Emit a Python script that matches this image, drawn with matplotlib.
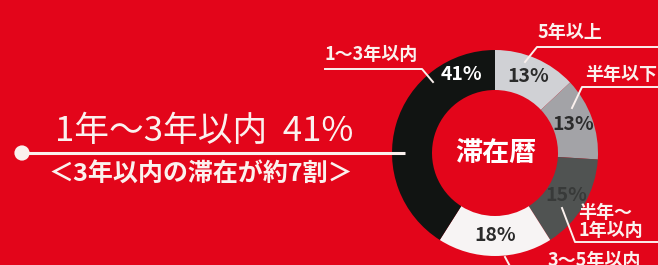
import matplotlib
matplotlib.use("Agg")
import matplotlib.pyplot as plt
import numpy as np

plt.rcParams['font.family'] = ['Noto Sans CJK JP', 'DejaVu Sans']

# ---- data ----
categories = ['5年以上', '半年以下', '半年〜1年以内', '3〜5年以内', '1〜3年以内']
values = [13, 13, 15, 18, 41]
pct_labels = ['13%', '13%', '15%', '18%', '41%']
center_title = '滞在暦'
headline = '1年〜3年以内  41%'
subline = '＜3年以内の滞在が約7割＞'

# ---- style ----
RED = '#e3051a'
WHITE = '#fbf1ee'
seg_colors = ['#d0d1d5', '#a3a3a7', '#505352', '#f7f4f4', '#111412']
pct_colors = ['#2b2b2b', '#2b2b2b', '#383a39', '#2b2b2b', '#ffffff']

W, H = 658, 265
fig = plt.figure(figsize=(W / 100, H / 100), dpi=100)
fig.patch.set_facecolor(RED)
ax = fig.add_axes([0, 0, 1, 1])
ax.set_facecolor(RED)

def Y(y):
    return H - y

cx, cy = 495, Y(153)
R_out, R_in = 103, 63

wedges, _, autotexts = ax.pie(
    values, colors=seg_colors, startangle=90, counterclock=False,
    center=(cx, cy), radius=R_out,
    wedgeprops=dict(width=R_out - R_in, linewidth=0),
    autopct='%d%%', pctdistance=(R_out + R_in) / 2 / R_out,
    textprops=dict(fontsize=14, fontweight='bold'))
for t, lab, c in zip(autotexts, pct_labels, pct_colors):
    t.set_text(lab)
    t.set_color(c)
# 41% label sits near the top of its wedge
ang = np.deg2rad(90 + 23)
autotexts[-1].set_position((cx + 85 * np.cos(ang), cy + 85 * np.sin(ang)))

ax.set_xlim(0, W)
ax.set_ylim(0, H)
ax.set_aspect('equal')
ax.axis('off')

# center title
ax.text(cx + 1, cy, center_title, color='white', fontsize=19.5, fontweight='bold',
        ha='center', va='center', zorder=5)

# headline with dot and line
ax.plot([22, 405], [Y(153), Y(153)], color=WHITE, lw=2.2, zorder=6,
        solid_capstyle='butt')
ax.scatter([22], [Y(153)], s=120, color=WHITE, zorder=7, edgecolors='none')
ax.text(55, Y(132), headline, color=WHITE, fontsize=25, ha='left',
        va='center', zorder=6)
ax.text(48, Y(175), subline, color=WHITE, fontsize=18, fontweight='bold',
        ha='left', va='center', zorder=6)

lw = 1.4
lc = WHITE
# 1〜3年以内 label
ax.text(325, Y(55), categories[4], color=WHITE, fontsize=13,
        fontweight='bold', ha='left', va='center')
ax.plot([325, 422, 433], [Y(69), Y(69), Y(82)], color=lc, lw=lw)
# 5年以上
ax.text(537, Y(33), categories[0], color=WHITE, fontsize=13,
        fontweight='bold', ha='left', va='center')
ax.plot([525, 537, 660], [Y(62), Y(47), Y(47)], color=lc, lw=lw)
# 半年以下
ax.text(585, Y(74), categories[1], color=WHITE, fontsize=13,
        fontweight='bold', ha='left', va='center')
ax.plot([572, 582, 660], [Y(108), Y(87), Y(87)], color=lc, lw=lw)
# 半年〜1年以内
ax.text(578, Y(213), '半年〜', color=WHITE, fontsize=13,
        fontweight='bold', ha='left', va='center')
ax.text(578, Y(231), '1年以内', color=WHITE, fontsize=13,
        fontweight='bold', ha='left', va='center')
ax.plot([562, 575, 660], [Y(208), Y(242), Y(242)], color=lc, lw=lw)
# 3〜5年以内
ax.text(548, Y(261), categories[3], color=WHITE, fontsize=13,
        fontweight='bold', ha='left', va='center')
ax.plot([505, 512], [Y(257), Y(270)], color=lc, lw=lw)

fig.savefig('out.png', dpi=100, facecolor=RED)
